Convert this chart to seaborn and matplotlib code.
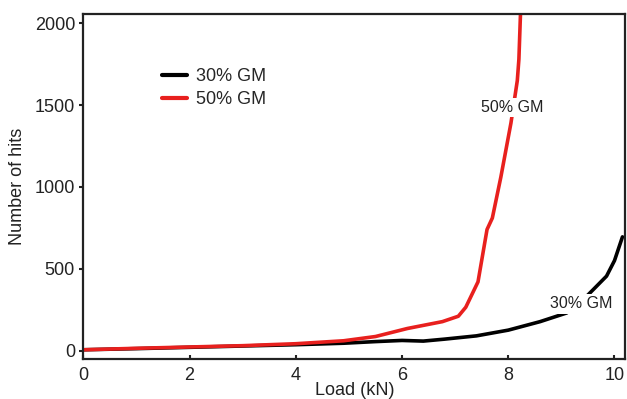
import matplotlib
matplotlib.use("Agg")
import matplotlib.pyplot as plt
import numpy as np
import pandas as pd
import seaborn as sns

# Number of hits versus applied load for two GM contents
load_30 = [0.0, 1.0, 2.0, 3.0, 4.0, 4.9, 5.5, 6.0, 6.4, 6.8, 7.4, 8.0, 8.6, 9.1, 9.5, 9.85, 10.0, 10.15]
hits_30 = [5, 12, 20, 28, 36, 45, 55, 62, 58, 70, 90, 125, 177, 230, 340, 455, 550, 695]

load_50 = [0.0, 1.0, 2.0, 3.0, 4.0, 4.9, 5.5, 6.1, 6.76, 7.06, 7.2, 7.43, 7.6, 7.7, 7.86, 8.05, 8.17, 8.2, 8.23]
hits_50 = [5, 14, 22, 30, 42, 60, 86, 135, 177, 210, 265, 420, 740, 810, 1060, 1390, 1650, 1780, 2060]

series_names = ["30% GM", "50% GM"]
series_colors = ["#000000", "#e8201e"]

df = pd.concat([
    pd.DataFrame({"Load": load_30, "Hits": hits_30, "Mix": series_names[0]}),
    pd.DataFrame({"Load": load_50, "Hits": hits_50, "Mix": series_names[1]}),
], ignore_index=True)

sns.set_style("ticks")
plt.rcParams["font.family"] = ["Liberation Sans", "DejaVu Sans"]

fig = plt.figure(figsize=(6.27, 3.99), dpi=100)
ax = fig.add_axes([0.133, 0.1, 0.864, 0.865])

sns.lineplot(data=df, x="Load", y="Hits", hue="Mix", palette=series_colors,
             linewidth=2.6, ax=ax, sort=False, legend=False)

ax.set_xlim(0, 10.2)
ax.set_ylim(-52, 2057)
ax.set_xticks([0, 2, 4, 6, 8, 10])
ax.set_yticks([0, 500, 1000, 1500, 2000])

for side in ["left", "right", "top", "bottom"]:
    ax.spines[side].set_visible(True)
    ax.spines[side].set_color("#222222")
    ax.spines[side].set_linewidth(1.6)

ax.tick_params(axis="x", direction="in", length=3, width=1.5, labelsize=13, pad=6, colors="#222222")
ax.tick_params(axis="y", direction="out", length=3, width=1.5, labelsize=13, pad=3, colors="#222222")

ax.set_xlabel("Load (kN)", fontsize=13, labelpad=-2, color="#222222")
ax.set_ylabel("Number of hits", fontsize=13, labelpad=6, color="#222222")

handles = [plt.Line2D([], [], color=c, linewidth=3) for c in series_colors]
ax.legend(handles, series_names, loc="upper left", bbox_to_anchor=(0.115, 0.89),
          frameon=False, fontsize=13, handlelength=1.4, handletextpad=0.5,
          labelspacing=0.35)

# In-line curve labels sitting on a white patch over the line
ax.text(8.08, 1483, "50% GM", fontsize=11.5, ha="center", va="center", color="#222222",
        bbox=dict(facecolor="white", edgecolor="none", pad=1.5))
ax.text(9.38, 285, "30% GM", fontsize=11.5, ha="center", va="center", color="#222222",
        bbox=dict(facecolor="white", edgecolor="none", pad=1.5))

fig.savefig("out.png", dpi=100)
